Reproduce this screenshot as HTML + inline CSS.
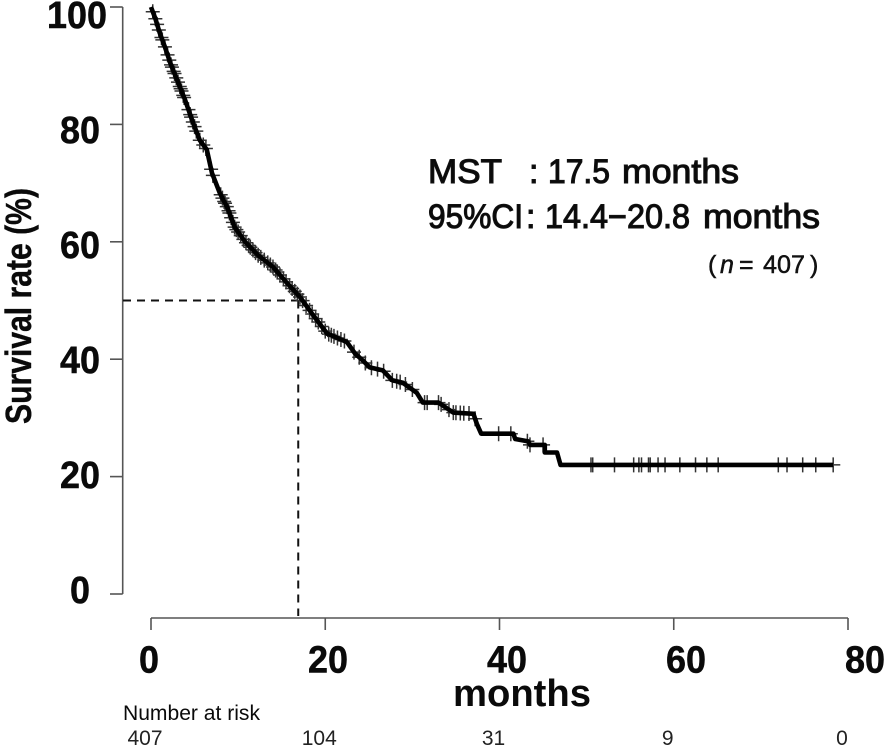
<!DOCTYPE html>
<html lang="en">
<head>
<meta charset="utf-8">
<title>Survival curve</title>
<style>
html,body{margin:0;padding:0;background:#fff;}
#chart{display:block;width:886px;height:746px;overflow:hidden;filter:blur(.35px);}
text{font-family:"Liberation Sans",Arial,sans-serif;fill:#0a0a0a;}
.tick-label{font-weight:bold;font-size:38px;text-anchor:middle;stroke:#0a0a0a;stroke-width:.5px;}
.risk{font-size:21px;text-anchor:middle;fill:#222;}
.note{font-size:34px;stroke:#111;stroke-width:1.1px;}
.note-small{font-size:25px;fill:#111;stroke:#111;stroke-width:.5px;}
</style>
</head>
<body>
<svg id="chart" xmlns="http://www.w3.org/2000/svg" width="886" height="746" viewBox="0 0 886 746">
  <rect x="0" y="0" width="886" height="746" fill="#fff"/>
  <g id="axes"></g>
  <g id="guides"></g>
  <g id="censors"></g>
  <g id="series"></g>
  <text transform="translate(31,424) rotate(-90)" font-size="36" font-weight="bold" stroke="#0a0a0a" stroke-width=".4" textLength="236" lengthAdjust="spacingAndGlyphs">Survival rate (%)</text>
  <text x="453" y="706" font-size="38" font-weight="bold" textLength="138" lengthAdjust="spacingAndGlyphs">months</text>
  <text x="123" y="720" font-size="21" fill="#222" textLength="137" lengthAdjust="spacingAndGlyphs">Number  at risk</text>
  <g>
    <text class="note" x="428" y="183" textLength="74" lengthAdjust="spacingAndGlyphs">MST</text>
    <text class="note" x="529" y="183">:</text>
    <text class="note" x="548" y="183" textLength="62" lengthAdjust="spacingAndGlyphs">17.5</text>
    <text class="note" x="622" y="183" textLength="117" lengthAdjust="spacingAndGlyphs">months</text>
    <text class="note" x="428" y="228" textLength="95" lengthAdjust="spacingAndGlyphs">95%CI</text>
    <text class="note" x="526" y="228">:</text>
    <text class="note" x="545" y="228" textLength="145" lengthAdjust="spacingAndGlyphs">14.4−20.8</text>
    <text class="note" x="703" y="228" textLength="117" lengthAdjust="spacingAndGlyphs">months</text>
    <text class="note-small" x="708" y="273">(</text>
    <text class="note-small" x="720" y="273" font-style="italic">n</text>
    <text class="note-small" x="739" y="273">=</text>
    <text class="note-small" x="763" y="273" textLength="42" lengthAdjust="spacingAndGlyphs">407</text>
    <text class="note-small" x="810" y="273">)</text>
  </g>
</svg>
<script>
const xTicks = [0, 20, 40, 60, 80];
const yTicks = [0, 20, 40, 60, 80, 100];
const riskCounts = [407, 104, 31, 9, 0];
const curveMonths = [0, 0.5, 1.0, 1.6, 2.2, 3.1, 3.9, 4.8, 5.6, 6.4, 7.0, 7.9, 8.8, 9.6, 10.8, 12.3, 14.0, 15.6, 17.1, 18.6, 20.2, 22.5, 23.4, 24.3, 25.1, 26.6, 27.7, 28.9, 30.5, 31.2, 33.0, 34.7, 37.0, 37.4, 37.9, 41.6, 41.8, 43.3, 43.5, 45.2, 45.2, 46.6, 47.0, 78.3];
const curveSurvival = [100, 98, 95.6, 93.2, 90.5, 87.2, 84.2, 80.4, 77.3, 75.7, 71.7, 68.3, 65.7, 62.5, 60, 57.7, 55.7, 53, 50.6, 47.5, 44.4, 42.9, 41, 39.8, 38.6, 38.1, 36.4, 36, 34.3, 32.6, 32.6, 30.9, 30.7, 29, 27.3, 27.3, 26.4, 26, 25.4, 25.4, 24.1, 24.1, 22, 22];
const censorMonths = [0.2, 0.5, 0.7, 0.9, 1.2, 1.3, 1.6, 1.9, 2.1, 2.3, 2.4, 2.6, 2.7, 2.9, 3.1, 3.3, 3.4, 3.5, 3.7, 3.8, 4.3, 4.5, 4.6, 4.8, 5.0, 5.2, 5.6, 6.0, 6.3, 6.9, 7.1, 8.0, 8.2, 8.4, 8.5, 8.7, 8.9, 9.0, 9.2, 9.4, 9.6, 9.8, 10.0, 10.3, 10.6, 10.9, 11.2, 11.4, 11.7, 12.0, 12.3, 12.6, 13.0, 13.4, 13.7, 14.0, 14.3, 14.5, 14.8, 15.2, 15.5, 15.9, 16.2, 16.5, 16.8, 17.1, 17.4, 17.8, 18.2, 18.5, 18.9, 19.2, 19.6, 20.0, 20.4, 20.7, 21.0, 21.4, 21.8, 22.2, 23.3, 23.9, 24.6, 25.3, 26.0, 26.7, 27.7, 28.2, 28.6, 29.2, 30.0, 31.4, 31.7, 33.0, 33.3, 34.2, 34.7, 35.0, 35.5, 35.9, 36.5, 37.2, 39.9, 41.3, 43.2, 43.5, 45.0, 50.5, 50.7, 53.2, 55.4, 56.0, 56.3, 57.1, 57.3, 58.2, 59.0, 60.7, 62.5, 63.8, 65.1, 72.0, 73.0, 74.8, 76.3, 78.3];

const SVGNS = 'http://www.w3.org/2000/svg';
const xPos = m => 151 + m * 8.7125;
const yPos = s => 594 - s * 5.87;
const yLabelBaseline = s => 603 - s * 5.75;
const xLabelCenter = v => 149 + v * 8.95;
const survivalAt = m => {
  for (let i = curveMonths.length - 1; i > 0; i--) {
    if (m >= curveMonths[i - 1]) {
      const span = curveMonths[i] - curveMonths[i - 1];
      if (span === 0) return curveSurvival[i];
      const t = Math.min(1, (m - curveMonths[i - 1]) / span);
      return curveSurvival[i - 1] + t * (curveSurvival[i] - curveSurvival[i - 1]);
    }
  }
  return curveSurvival[0];
};
const make = (tag, attrs, parent, content) => {
  const el = document.createElementNS(SVGNS, tag);
  for (const k in attrs) el.setAttribute(k, attrs[k]);
  if (content !== undefined) el.textContent = content;
  parent.appendChild(el);
  return el;
};
const axes = document.getElementById('axes');
const guides = document.getElementById('guides');
const censors = document.getElementById('censors');
const series = document.getElementById('series');
const axisStyle = {stroke: '#555', 'stroke-width': 1.6, fill: 'none'};

const yAxisLine = make('line', {x1: 122.7, x2: 122.7, y1: yPos(100), y2: yPos(0), ...axisStyle}, axes);


const xAxisLine = make('line', {x1: xPos(0), x2: xPos(80), y1: 618, y2: 618, ...axisStyle}, axes);



yTicks.forEach(v => {
  const t = make('line', {x1: 110, x2: 122.7, y1: yPos(v), y2: yPos(v), ...axisStyle}, axes);
  
  
  const l = make('text', {class: 'tick-label', x: v === 100 ? 77 : 80, y: yLabelBaseline(v), textLength: String(v).length * 20, lengthAdjust: 'spacingAndGlyphs'}, axes, v);
  
  
});
xTicks.forEach((v, i) => {
  const t = make('line', {x1: xPos(v), x2: xPos(v), y1: 618, y2: 630, ...axisStyle}, axes);
  
  
  const l = make('text', {class: 'tick-label', x: xLabelCenter(v), y: 672.5, textLength: String(v).length * 20, lengthAdjust: 'spacingAndGlyphs'}, axes, v);
  
  
  const r = make('text', {class: 'risk', x: xPos(v) - 6, y: 745}, axes, riskCounts[i]);
  
  
});

const medianMonth = 16.9;
const medianRate = 50;
const guideStyle = {stroke: '#111', 'stroke-width': 2, 'stroke-dasharray': '8 6', fill: 'none'};
const gh = make('line', {x1: 123, x2: xPos(medianMonth), y1: yPos(medianRate), y2: yPos(medianRate), ...guideStyle}, guides);


const gv = make('line', {x1: xPos(medianMonth), x2: xPos(medianMonth), y1: yPos(medianRate), y2: 616, ...guideStyle}, guides);



censorMonths.forEach(m => {
  const px = xPos(m), py = yPos(survivalAt(m));
  const d = 'M' + (px - 7) + ' ' + py + 'H' + (px + 7) + 'M' + px + ' ' + (py - 7.5) + 'V' + (py + 7.5);
  const c = make('path', {d: d, stroke: '#333', 'stroke-width': 1.5, fill: 'none'}, censors);
  
  
});

const curvePath = curveMonths.map((m, i) => (i ? 'L' : 'M') + xPos(m).toFixed(1) + ' ' + yPos(curveSurvival[i]).toFixed(1)).join('');
const curve = make('path', {d: curvePath, stroke: '#000', 'stroke-width': 4.6, fill: 'none', 'stroke-linejoin': 'round'}, series);


const lastM = curveMonths[curveMonths.length - 1];
const lastS = curveSurvival[curveSurvival.length - 1];
const tail = make('line', {x1: xPos(lastM), x2: xPos(lastM) + 7, y1: yPos(lastS), y2: yPos(lastS), stroke: '#444', 'stroke-width': 1.3}, series);


</script>
</body>
</html>
